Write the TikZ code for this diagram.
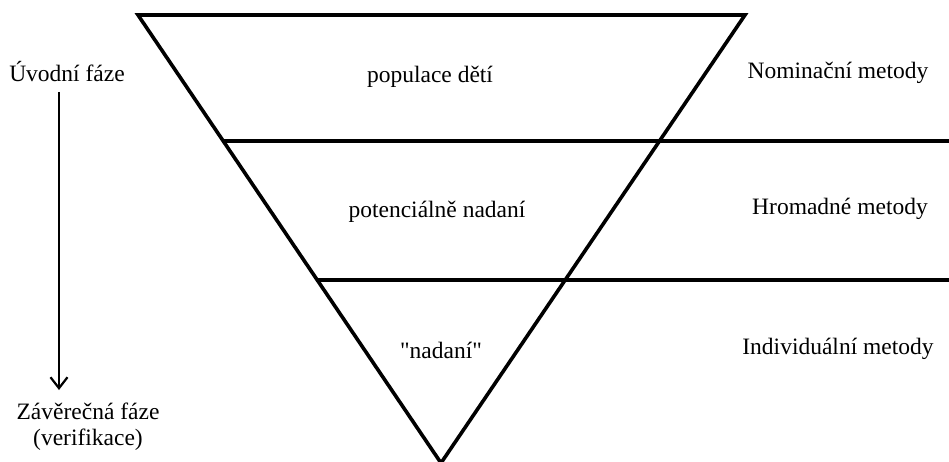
\documentclass[tikz,border=0pt]{standalone}
\usepackage{fontspec}
\setmainfont{Liberation Serif}[Ligatures=TeXOff]
\usetikzlibrary{arrows.meta}
\begin{document}
\begin{tikzpicture}[x=1pt,y=-1pt,
  lbl/.style={font=\fontsize{23.5}{26}\selectfont, inner sep=0pt, align=center},
  thick line/.style={line width=3.6pt, line join=miter},
  phase arrow/.style={line width=2.2pt, -{Straight Barb[length=11pt,width=17pt,line width=2.2pt]}}]
\useasboundingbox (0,0) rectangle (949,462);
% triangle corners
\coordinate (tl) at (138,15);
\coordinate (tr) at (745,15);
\coordinate (bt) at (441,463);
\draw[thick line] (tl) -- (tr) -- (bt) -- cycle;
% band separators
\coordinate (l1) at (223.4,141);
\coordinate (r1) at (951,141);
\coordinate (l2) at (317.6,280);
\coordinate (r2) at (951,280);
\draw[thick line] (l1) -- (r1);
\draw[thick line] (l2) -- (r2);
% inner labels
\node[lbl] (pop) at (430,77) {populace dětí};
\node[lbl] (pot) at (437,212) {potenciálně nadaní};
\node[lbl] (nad) at (441,350) {"nadaní"};
% right labels
\node[lbl] (nom) at (838,73) {Nominační metody};
\node[lbl] (hro) at (840,209) {Hromadné metody};
\node[lbl] (ind) at (838,349) {Individuální metody};
% left phases
\node[lbl] (uv) at (67,72) {Úvodní fáze};
\node[lbl] (zav) at (88,427) {Závěrečná fáze\\(verifikace)};
\coordinate (as) at (59,92);
\coordinate (ae) at (59,390);
\draw[phase arrow] (as) -- (ae);
\end{tikzpicture}
\end{document}
